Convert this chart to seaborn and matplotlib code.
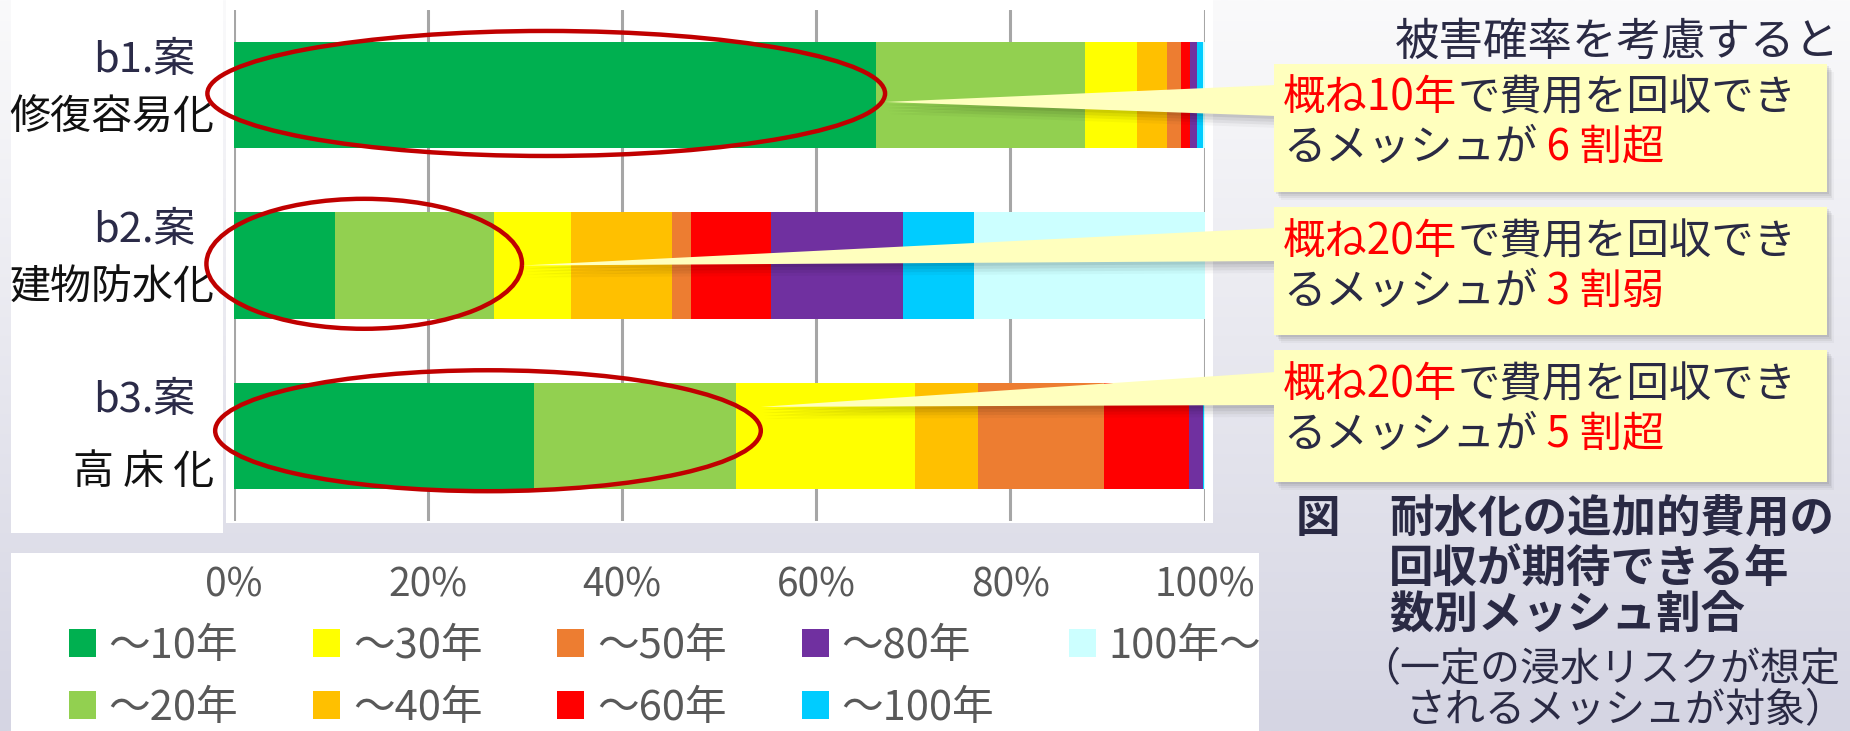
import numpy as np
import pandas as pd
import matplotlib
matplotlib.use("Agg")
import matplotlib.pyplot as plt
import seaborn as sns
from matplotlib import transforms
from matplotlib.patches import Rectangle, Ellipse, Polygon, Patch

# ---------------- data ----------------
cases = ["b1.案", "b2.案", "b3.案"]
measures = ["修復容易化", "建物防水化", "高 床 化"]
periods = ["～10年", "～20年", "～30年", "～40年", "～50年",
           "～60年", "～80年", "～100年", "100年～"]

share_10 = [66.2, 10.4, 30.9]
share_20 = [21.5, 16.4, 20.8]
share_30 = [5.3, 7.9, 18.5]
share_40 = [3.1, 10.5, 6.5]
share_50 = [1.5, 1.9, 13.0]
share_60 = [0.9, 8.2, 8.7]
share_80 = [0.7, 13.6, 1.4]
share_100 = [0.6, 7.4, 0.1]
share_over100 = [0.2, 23.7, 0.1]

period_colors = ["#00B050", "#92D050", "#FFFF00", "#FFC000", "#ED7D31",
                 "#FF0000", "#7030A0", "#00CCFF", "#CCFFFF"]

xtick_values = [0, 20, 40, 60, 80, 100]
xtick_labels = ["0%", "20%", "40%", "60%", "80%", "100%"]

# number of periods circled on each bar
circled_periods = [1, 2, 2]

headline = "被害確率を考慮すると"
note_lead = ["概ね10年", "概ね20年", "概ね20年"]
note_mid = "で費用を回収でき"
note_tail = "るメッシュが"
note_ratio = [" 6 割超", " 3 割弱", " 5 割超"]

caption_bold = ["耐水化の追加的費用の", "回収が期待できる年", "数別メッシュ割合"]
caption_note = ["（一定の浸水リスクが想定", "されるメッシュが対象）"]

# ---------------- styling ----------------
sns.set_theme(style="white")
plt.rcParams["font.family"] = ["Noto Sans CJK JP", "DejaVu Sans"]

W, H = 1850, 731
DARK = "#2A2A44"
RED = "#FF0000"
NOTE_BG = "#FFFFBE"

fig = plt.figure(figsize=(W / 100, H / 100), dpi=100)

# background gradient and white panels (pixel coordinates, origin top-left)
bg = fig.add_axes([0, 0, 1, 1], zorder=-10)
bg.set_xlim(0, W)
bg.set_ylim(H, 0)
bg.axis("off")
t = np.linspace(0, 1, 256)[:, None]
top_c = np.array([250, 250, 251]) / 255
bot_c = np.array([213, 213, 227]) / 255
grad = (top_c * (1 - t) + bot_c * t).reshape(256, 1, 3)
bg.imshow(grad, extent=[0, W, H, 0], aspect="auto")
for (x0, y0, w, h) in [(11, 0, 212, 533), (226, 0, 987, 523), (11, 553, 1248, 178)]:
    bg.add_patch(Rectangle((x0, y0), w, h, facecolor="white", edgecolor="none"))

# ---------------- stacked bars ----------------
ax_l, ax_r, ax_t, ax_b = 233.6, 1204.5, 10, 521
ax = fig.add_axes([ax_l / W, 1 - ax_b / H, (ax_r - ax_l) / W, (ax_b - ax_t) / H], zorder=0)
ax.patch.set_alpha(0)

series = [share_10, share_20, share_30, share_40, share_50,
          share_60, share_80, share_100, share_over100]
cum = np.cumsum(np.array(series), axis=0)
df = pd.DataFrame({"case": cases})
for k in range(len(periods)):
    df[periods[k]] = cum[k]

# draw the cumulative totals from the longest to the shortest so they stack
for k in range(len(periods) - 1, -1, -1):
    sns.barplot(data=df, x=periods[k], y="case", orient="h", color=period_colors[k],
                saturation=1, width=0.625, errorbar=None, edgecolor="none",
                linewidth=0, ax=ax)

ax.set_xlim(0, 100)
ax.set_ylim(2.5, -0.5)
ax.set_xlabel("")
ax.set_ylabel("")
ax.set_xticks(xtick_values)
ax.set_xticklabels(xtick_labels)
ax.set_yticks([])
ax.tick_params(axis="x", length=0, pad=32, labelsize=28, labelcolor="#595959")
for s in ax.spines.values():
    s.set_visible(False)
ax.set_axisbelow(True)
ax.xaxis.grid(True, color="#A6A6A6", linewidth=2.2)
ax.yaxis.grid(False)

# category labels
lbl_tr = transforms.blended_transform_factory(ax.transAxes, ax.transData)
measure_dy = [0.135, 0.135, 0.215]
for i, (c, m) in enumerate(zip(cases, measures)):
    ax.text(-0.040, i - 0.205, c, transform=lbl_tr, ha="right", va="center",
            fontsize=30, color="#2B2B48", clip_on=False)
    ax.text(-0.020, i + measure_dy[i], m, transform=lbl_tr, ha="right", va="center",
            fontsize=29.5, color="#111111", clip_on=False)

# red rings around the circled shares
ring_left = [-2.7, -2.8, -1.9]
ring_pad = [0.9, 2.9, 2.6]
ring_h = [0.734, 0.763, 0.71]
ring_dy = [-0.01, -0.01, -0.03]
tip_dy = [0.04, 0.0, -0.17]
tips = []
for i in range(3):
    right = cum[circled_periods[i] - 1][i] + ring_pad[i]
    cx = (ring_left[i] + right) / 2
    ax.add_patch(Ellipse((cx, i + ring_dy[i]), right - ring_left[i], ring_h[i],
                         facecolor="none", edgecolor="#C00000", linewidth=3.2,
                         clip_on=False, zorder=5))
    tips.append((right, i + tip_dy[i]))

# ---------------- callouts and text (overlay, pixel coordinates) ----------------
ov = fig.add_axes([0, 0, 1, 1], zorder=5)
ov.set_xlim(0, W)
ov.set_ylim(H, 0)
ov.axis("off")

box_x0, box_x1 = 1274, 1827
box_y = [(64, 192), (207, 335), (350, 482)]
wedge_base = [(85, 116), (228, 261), (372, 405)]
line_y = [(98, 148), (242, 292), (385, 435)]

for i in range(3):
    dx, dy = ax.transData.transform(tips[i])
    tip = (dx, H - dy)
    y0, y1 = box_y[i]
    b0, b1 = wedge_base[i]
    wedge = [tip, (box_x0 + 2, b0), (box_x0 + 2, b1)]
    # soft shadow
    for off, a in [(3, 0.07), (6, 0.06), (9, 0.05), (12, 0.03)]:
        ov.add_patch(Rectangle((box_x0 + off * 0.6, y0 + off * 0.7), box_x1 - box_x0, y1 - y0,
                               facecolor="black", alpha=a, edgecolor="none"))
        ov.add_patch(Polygon([(p[0] + off * 0.3, p[1] + off) for p in wedge],
                             closed=True, facecolor="black", alpha=a, edgecolor="none"))
    ov.add_patch(Polygon(wedge, closed=True, facecolor=NOTE_BG, edgecolor="none"))
    ov.add_patch(Rectangle((box_x0, y0), box_x1 - box_x0, y1 - y0,
                           facecolor=NOTE_BG, edgecolor="none"))

    la, lb = line_y[i]
    t1 = ov.text(1283, la, note_lead[i], color=RED, fontsize=30.5, ha="left", va="center")
    ov.annotate(note_mid, xy=(1, 0), xycoords=t1, ha="left", va="bottom",
                color=DARK, fontsize=30.5)
    t2 = ov.text(1283, lb, note_tail, color=DARK, fontsize=30.5, ha="left", va="center")
    ov.annotate(note_ratio[i], xy=(1, 0), xycoords=t2, ha="left", va="bottom",
                color=RED, fontsize=30.5)

ov.text(1395, 42, headline, color=DARK, fontsize=32, ha="left", va="center")

ov.text(1296, 519, "図", color=DARK, fontsize=32, fontweight="bold", ha="left", va="center")
for y, s in zip([519, 570, 616], caption_bold):
    ov.text(1389, y, s, color=DARK, fontsize=32, fontweight="bold", ha="left", va="center")
ov.text(1360, 670, caption_note[0], color=DARK, fontsize=28.8, ha="left", va="center")
ov.text(1406, 711, caption_note[1], color=DARK, fontsize=28.8, ha="left", va="center")

# ---------------- legend ----------------
handles = [Patch(facecolor=c, edgecolor="none") for c in period_colors]
fig.legend(handles, periods, ncol=5, loc="upper left",
           bbox_to_anchor=(69 / W, 1 - 626 / H), frameon=False, fontsize=30,
           labelcolor="#595959", handlelength=0.65, handleheight=0.65,
           handletextpad=0.3, columnspacing=1.8, labelspacing=0.5,
           borderpad=0, borderaxespad=0)

fig.savefig("out.png", dpi=100)
